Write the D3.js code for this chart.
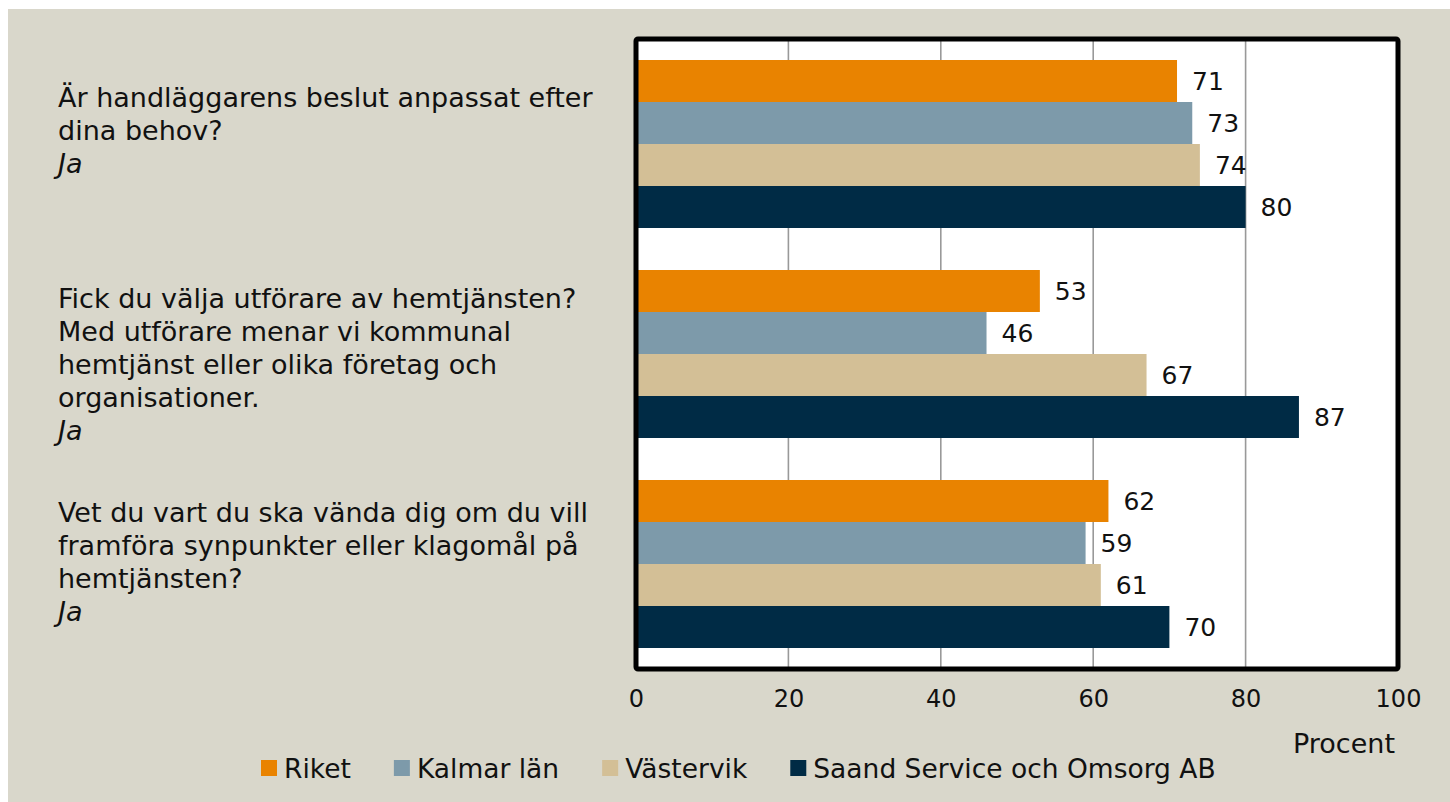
<!DOCTYPE html>
<html>
<head>
<meta charset="utf-8">
<script src="https://cdn.jsdelivr.net/npm/d3@7"></script>
<style>
  body { margin: 0; background: #fff; }
  text { font-family: "DejaVu Sans", sans-serif; fill: #111; }
</style>
</head>
<body>
<script>
// data
var questions = [
  ["Är handläggarens beslut anpassat efter", "dina behov?"],
  ["Fick du välja utförare av hemtjänsten?", "Med utförare menar vi kommunal", "hemtjänst eller olika företag och", "organisationer."],
  ["Vet du vart du ska vända dig om du vill", "framföra synpunkter eller klagomål på", "hemtjänsten?"]
];
var answer = "Ja";
var seriesNames = ["Riket", "Kalmar län", "Västervik", "Saand Service och Omsorg AB"];
var riket = [71, 53, 62];
var kalmar = [73, 46, 59];
var vastervik = [74, 67, 61];
var saand = [80, 87, 70];
var xTicks = [0, 20, 40, 60, 80, 100];
var colors = ["#E98300", "#7D9AAA", "#D3BF96", "#002B45"];

var values = [riket, kalmar, vastervik, saand];
var W = 1450, H = 802;

var svg = d3.select("body").append("svg").attr("width", W).attr("height", H);
svg.append("rect").attr("x", 8).attr("y", 9).attr("width", W - 8).attr("height", H - 9).attr("fill", "#D9D7CB");

var x = d3.scaleLinear().domain([0, 100]).range([636, 1398]);
var y0 = d3.scaleBand().domain(d3.range(questions.length)).range([39, 669]).paddingInner(0.2).paddingOuter(0.1);
var y1 = d3.scaleBand().domain(d3.range(seriesNames.length)).range([0, y0.bandwidth()]);

// plot area
svg.append("rect").attr("x", x(0)).attr("y", 39).attr("width", x(100) - x(0)).attr("height", 630).attr("fill", "#fff");

// grid
svg.append("g").selectAll("line").data(xTicks.slice(1, -1)).join("line")
  .attr("x1", d => x(d)).attr("x2", d => x(d)).attr("y1", 39).attr("y2", 669)
  .attr("stroke", "#999").attr("stroke-width", 1.6);

// bars
var groups = svg.append("g").selectAll("g").data(questions).join("g")
  .attr("transform", (d, i) => "translate(0," + y0(i) + ")");
groups.each(function (q, qi) {
  var g = d3.select(this);
  var rows = values.map((s, si) => ({ si: si, v: s[qi] }));
  g.selectAll("rect").data(rows).join("rect")
    .attr("x", x(0)).attr("y", d => y1(d.si))
    .attr("width", d => x(d.v) - x(0)).attr("height", y1.bandwidth())
    .attr("fill", d => colors[d.si]);
  g.selectAll("text.val").data(rows).join("text").attr("class", "val")
    .attr("x", d => x(d.v) + 15).attr("y", d => y1(d.si) + y1.bandwidth() / 2)
    .attr("dy", "0.36em").attr("font-size", 25).text(d => d.v);
});

// frame
svg.append("rect").attr("x", x(0)).attr("y", 39).attr("width", x(100) - x(0)).attr("height", 630)
  .attr("fill", "none").attr("stroke", "#000").attr("stroke-width", 5).attr("rx", 2);

// x axis labels
var xAxis = d3.axisBottom(x).tickValues(xTicks).tickSize(0).tickPadding(0);
var ax = svg.append("g").attr("transform", "translate(0,690)").call(xAxis);
ax.select(".domain").remove();
ax.selectAll("text").attr("font-size", 24).attr("fill", "#111").attr("dy", "0.71em")
  .style("font-family", '"DejaVu Sans", sans-serif');
svg.append("text").attr("x", 1395).attr("y", 753).attr("text-anchor", "end").attr("font-size", 27).text("Procent");

// category labels
var labelShift = [-4, 20, 7];
questions.forEach(function (lines, qi) {
  var all = lines.concat([answer]);
  var cy = y0(qi) + y0.bandwidth() / 2;
  var first = cy - (all.length - 1) / 2 * 33 + labelShift[qi];
  var t = svg.append("text").attr("x", 58).attr("y", first).attr("font-size", 27);
  all.forEach(function (l, li) {
    t.append("tspan").attr("x", 58).attr("y", first + li * 33)
      .attr("font-style", li === all.length - 1 ? "italic" : null).text(l);
  });
});

// legend
var leg = svg.append("g").attr("transform", "translate(261,768)");
var cx = 0;
seriesNames.forEach(function (n, i) {
  leg.append("rect").attr("x", cx).attr("y", -8).attr("width", 16).attr("height", 16).attr("fill", colors[i]);
  var t = leg.append("text").attr("x", cx + 23).attr("y", 0).attr("dy", "0.36em").attr("font-size", 26.5).text(n);
  cx += 23 + t.node().getComputedTextLength() + 43;
});
</script>
</body>
</html>
